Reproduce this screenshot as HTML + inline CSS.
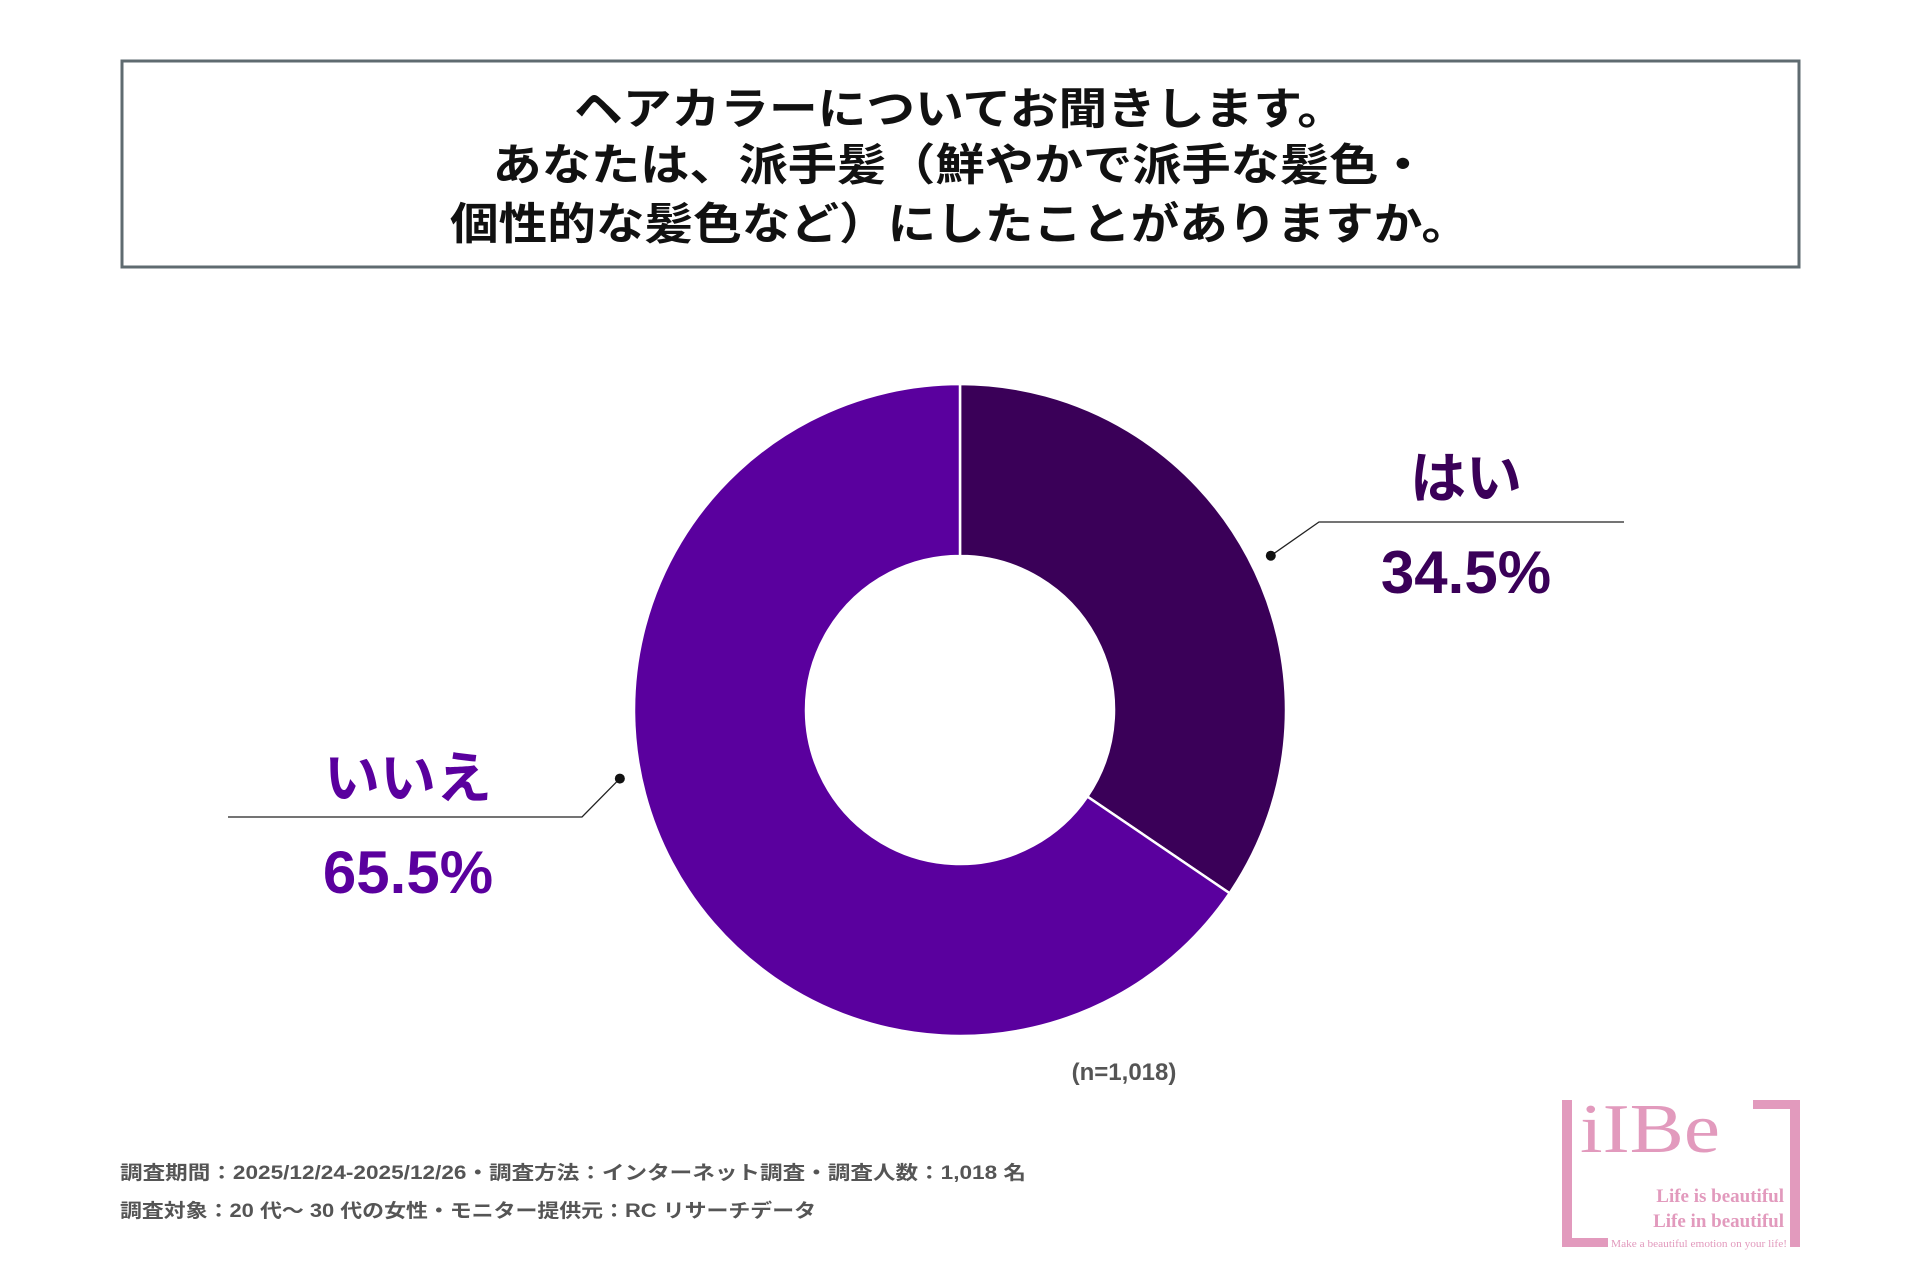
<!DOCTYPE html>
<html><head><meta charset="utf-8">
<style>
html,body{margin:0;padding:0;background:#fff;}
svg{display:block;}
text{font-family:"Liberation Sans","Noto Sans CJK JP",sans-serif;}
</style></head>
<body>
<svg id="chart" width="1920" height="1280" viewBox="0 0 1920 1280">
  <rect x="0" y="0" width="1920" height="1280" fill="#fff"/>
  <g>
    <rect x="122" y="61" width="1677" height="206" fill="#fff" stroke="#5f6b70" stroke-width="3"/>
    <text x="960" y="124" text-anchor="middle" font-size="44" font-weight="bold" fill="#111" textLength="772" lengthAdjust="spacingAndGlyphs">ヘアカラーについてお聞きします。</text>
    <text x="960" y="180" text-anchor="middle" font-size="44" font-weight="bold" fill="#111" textLength="935" lengthAdjust="spacingAndGlyphs">あなたは、派手髪（鮮やかで派手な髪色・</text>
    <text x="960" y="239" text-anchor="middle" font-size="44" font-weight="bold" fill="#111" textLength="1020" lengthAdjust="spacingAndGlyphs">個性的な髪色など）にしたことがありますか。</text>
  </g>
  <g id="slices"></g>
  <g id="labels"></g>
  <text x="1124" y="1080" text-anchor="middle" font-size="24" font-weight="bold" fill="#555">(n=1,018)</text>
  <g>
    <text x="120" y="1179" font-size="19" font-weight="bold" fill="#555" textLength="906" lengthAdjust="spacingAndGlyphs">調査期間：2025/12/24-2025/12/26・調査方法：インターネット調査・調査人数：1,018 名</text>
    <text x="120" y="1217" font-size="19" font-weight="bold" fill="#555" textLength="696" lengthAdjust="spacingAndGlyphs">調査対象：20 代～ 30 代の女性・モニター提供元：RC リサーチデータ</text>
  </g>
  <g fill="#e29abd">
    <rect x="1562" y="1100" width="10" height="147"/>
    <rect x="1562" y="1238" width="46" height="9"/>
    <rect x="1753" y="1100" width="47" height="9"/>
    <rect x="1790" y="1100" width="10" height="147"/>
    <text x="1580" y="1152" font-size="70" style="font-family:'Liberation Serif',serif" textLength="140" lengthAdjust="spacingAndGlyphs">iIBe</text>
    <text x="1784" y="1202" text-anchor="end" font-size="19" font-weight="bold" style="font-family:'Liberation Serif',serif">Life is beautiful</text>
    <text x="1784" y="1227" text-anchor="end" font-size="19" font-weight="bold" style="font-family:'Liberation Serif',serif">Life in beautiful</text>
    <text x="1611" y="1247" font-size="10" style="font-family:'Liberation Serif',serif" textLength="176" lengthAdjust="spacingAndGlyphs">Make a beautiful emotion on your life!</text>
  </g>
</svg>
<script>
const categories = ["はい", "いいえ"];
const values = [34.5, 65.5];
const valueLabels = ["34.5%", "65.5%"];
const colors = ["#3a0058", "#5a009e"];

const NS = "http://www.w3.org/2000/svg";
const cx = 960, cy = 710, R = 326, r = 154;
const total = values.reduce((a, b) => a + b, 0);
function angleOf(v) { return v / total * Math.PI * 2; }
function pt(a, rad) { return [cx + rad * Math.sin(a), cy - rad * Math.cos(a)]; }

const slicesG = document.getElementById("slices");
let start = 0;
const mids = [];
values.forEach((v, i) => {
  const end = start + angleOf(v);
  const large = (end - start) > Math.PI ? 1 : 0;
  const [x1, y1] = pt(start, R), [x2, y2] = pt(end, R);
  const [x3, y3] = pt(end, r), [x4, y4] = pt(start, r);
  const p = document.createElementNS(NS, "path");
  p.setAttribute("d", `M${x1},${y1} A${R},${R} 0 ${large} 1 ${x2},${y2} L${x3},${y3} A${r},${r} 0 ${large} 0 ${x4},${y4} Z`);
  p.setAttribute("fill", colors[i]);
  p.setAttribute("stroke", "#fff");
  p.setAttribute("stroke-width", "2.5");
  
  
  slicesG.appendChild(p);
  mids.push((start + end) / 2);
  start = end;
});

const labelsG = document.getElementById("labels");
const layouts = [
  { off: 1.5, elbow: [1319, 522], end: [1624, 522], tx: 1466, cy: 498, vy: 593 },
  { off: 16.5, elbow: [582, 817], end: [228, 817], tx: 408, cy: 798, vy: 893 }
];
categories.forEach((c, i) => {
  const L = layouts[i];
  const [dx, dy] = pt(mids[i] + L.off * Math.PI / 180, 347);
  const line = document.createElementNS(NS, "polyline");
  line.setAttribute("points", `${dx},${dy} ${L.elbow[0]},${L.elbow[1]} ${L.end[0]},${L.end[1]}`);
  line.setAttribute("fill", "none");
  line.setAttribute("stroke", "#222");
  line.setAttribute("stroke-width", "1.3");
  
  
  labelsG.appendChild(line);
  const dot = document.createElementNS(NS, "circle");
  dot.setAttribute("cx", dx); dot.setAttribute("cy", dy); dot.setAttribute("r", "5");
  dot.setAttribute("fill", "#111");
  
  
  labelsG.appendChild(dot);
  const t1 = document.createElementNS(NS, "text");
  t1.setAttribute("x", L.tx); t1.setAttribute("y", L.cy);
  t1.setAttribute("text-anchor", "middle");
  t1.setAttribute("font-size", "56"); t1.setAttribute("font-weight", "bold");
  t1.setAttribute("fill", colors[i]);
  t1.textContent = c;
  
  
  labelsG.appendChild(t1);
  const t2 = document.createElementNS(NS, "text");
  t2.setAttribute("x", L.tx); t2.setAttribute("y", L.vy);
  t2.setAttribute("text-anchor", "middle");
  t2.setAttribute("font-size", "60"); t2.setAttribute("font-weight", "bold");
  t2.setAttribute("fill", colors[i]);
  t2.textContent = valueLabels[i];
  
  
  labelsG.appendChild(t2);
});
</script>
</body></html>
